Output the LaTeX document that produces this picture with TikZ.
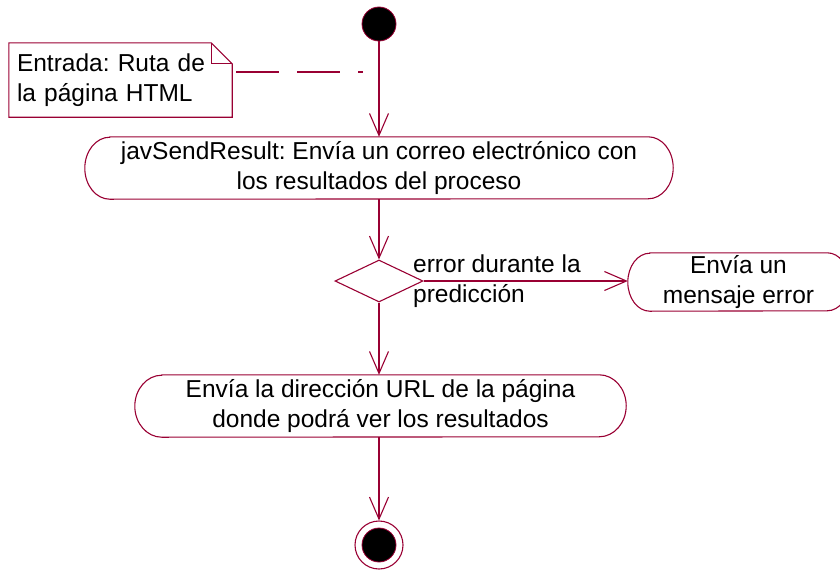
\documentclass[tikz,border=0pt]{standalone}
\usepackage{fontspec}
\setmainfont{Liberation Sans}
\usetikzlibrary{shapes.geometric,arrows.meta}
\definecolor{umlred}{RGB}{153,0,51}
\frenchspacing
\newcommand\actshape[3]{\draw[line] ([xshift=#2]#1.north west) -- ([xshift=-#2]#1.north east) arc[start angle=90,end angle=-90,x radius=#2,y radius=#3] -- ([xshift=#2]#1.south west) arc[start angle=270,end angle=90,x radius=#2,y radius=#3] -- cycle;}
\begin{document}
\begin{tikzpicture}[x=1pt,y=1pt,
  line/.style={draw=umlred, line width=1.1pt},
  flow/.style={line, -{Straight Barb[length=22pt,width=19pt]}},
  lbl/.style={font=\fontsize{24.5}{30}\selectfont\frenchspacing, align=center, inner sep=0pt},
  actbox/.style={lbl, minimum height=62pt},
  dot/.style={circle, fill=black, draw=umlred, line width=0.8pt, minimum size=34pt, inner sep=0pt}
]
\useasboundingbox (0,0) rectangle (840,-570);

% nodes
\node[dot] (start) at (379,-24) {};
\node[lbl, align=left, anchor=center, text width=207pt, inner xsep=8pt, minimum height=74pt] (note) at (120.5,-80) {Entrada: Ruta de\\la página HTML};
\node[actbox, minimum width=588pt] (a1) at (379,-168) {javSendResult: Envía un correo electrónico con\\los resultados del proceso};
\node[diamond, line, minimum width=88pt, minimum height=42pt, inner sep=0pt] (dec) at (379,-281) {};
\node[lbl, align=left, anchor=west] (lab) at (413,-281) {error durante la\\predicción};
\node[lbl, minimum width=221pt, minimum height=58pt] (err) at (738.5,-282) {Envía un\\mensaje error};
\node[actbox, minimum width=491pt] (a3) at (380.5,-406) {Envía la dirección URL de la página\\donde podrá ver los resultados};
\node[circle, draw=umlred, line width=1.1pt, minimum size=48pt, inner sep=0pt] (end) at (379,-545) {};
\node[dot] (endin) at (end.center) {};
\coordinate (dashend) at (363,-72);

% outlines
\draw[line] (note.north west) -- ([xshift=-21pt]note.north east) -- ([yshift=-21pt]note.north east) -- (note.south east) -- (note.south west) -- cycle;
\draw[line] ([xshift=-21pt]note.north east) |- ([yshift=-21pt]note.north east);
\actshape{a1}{25pt}{31pt}
\actshape{a3}{27pt}{31pt}
\actshape{err}{22pt}{29pt}

% connectors
\draw[line, dash pattern=on 43pt off 18pt, shorten <=4pt] (note.east |- dashend) -- (dashend);
\draw[flow] (start) -- (a1.north);
\draw[flow] (a1.south) -- (dec.north);
\draw[flow] (dec.south) -- (dec.south |- a3.north);
\draw[flow] (dec.east) -- (dec.east -| err.west);
\draw[flow] (a3.south -| end.north) -- (end.north);
\end{tikzpicture}
\end{document}
